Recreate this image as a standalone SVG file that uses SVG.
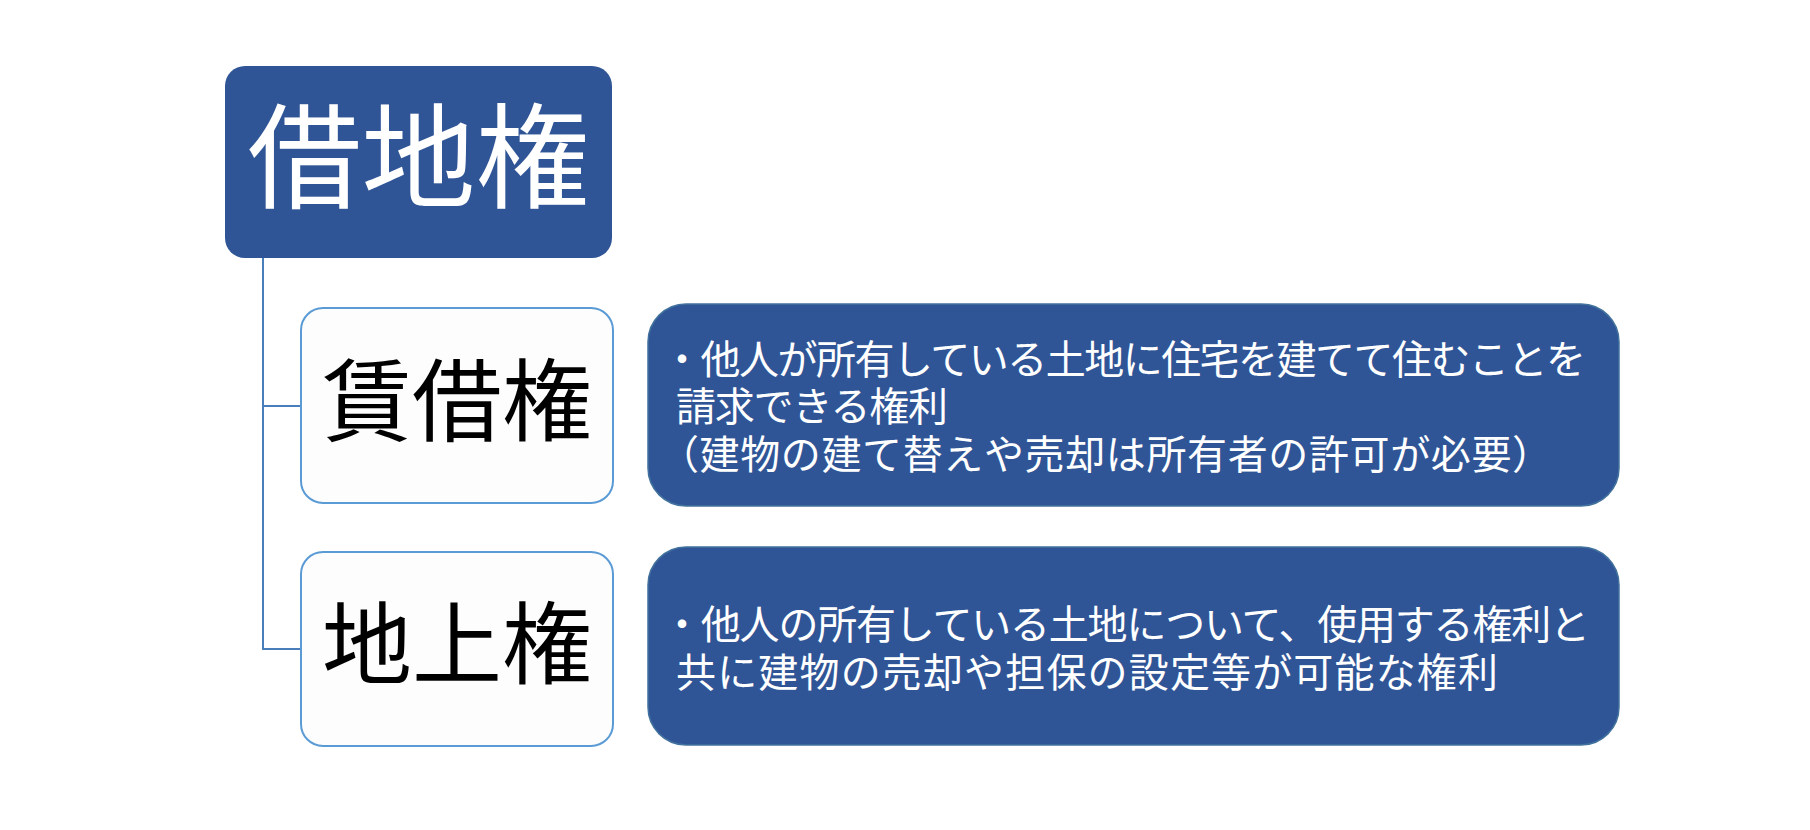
<svg xmlns="http://www.w3.org/2000/svg" width="1810" height="830" viewBox="0 0 1810 830">
<style>
.dark{fill:#2F5597;stroke:#41719C;stroke-width:1.5}
.light{fill:#FDFDFD;stroke:#5B9BD5;stroke-width:2}
.conn{fill:none;stroke:#4A7EBB;stroke-width:2}
.big{font-family:"Noto Sans CJK JP","Noto Sans CJK SC",sans-serif;text-anchor:middle}
.desc{font-family:"Noto Sans CJK JP","Noto Sans CJK SC",sans-serif;font-size:40px;fill:#FFFFFF}
</style>
<rect width="1810" height="830" fill="#FFFFFF"/>
<g id="connectors">
<path class="conn" d="M263 258 V649 H301 M263 406 H301"/>
</g>
<g id="node-shakuchiken">
<rect x="225" y="66" width="387" height="192" rx="20" fill="#2F5597"/>
<text class="big" x="418.5" y="199" font-size="114" fill="#FFFFFF">借地権</text>
</g>
<g id="node-chinshakuken">
<rect class="light" x="301" y="308" width="312" height="195" rx="22"/>
<text class="big" x="457" y="434" font-size="90" fill="#000000">賃借権</text>
</g>
<g id="node-chijoken">
<rect class="light" x="301" y="552" width="312" height="194" rx="22"/>
<text class="big" x="457" y="677" font-size="90" fill="#000000">地上権</text>
</g>
<g id="desc-chinshakuken">
<rect class="dark" x="648" y="304" width="971" height="202" rx="38"/>
<text class="desc" x="662" y="374" textLength="924" lengthAdjust="spacing">・他人が所有している土地に住宅を建てて住むことを</text>
<text class="desc" x="676" y="421" textLength="272" lengthAdjust="spacing">請求できる権利</text>
<text class="desc" x="659" y="469" textLength="893" lengthAdjust="spacing">（建物の建て替えや売却は所有者の許可が必要）</text>
</g>
<g id="desc-chijoken">
<rect class="dark" x="648" y="547" width="971" height="198" rx="38"/>
<text class="desc" x="662" y="639" textLength="928" lengthAdjust="spacing">・他人の所有している土地について、使用する権利と</text>
<text class="desc" x="676" y="687" textLength="822" lengthAdjust="spacing">共に建物の売却や担保の設定等が可能な権利</text>
</g>
</svg>
